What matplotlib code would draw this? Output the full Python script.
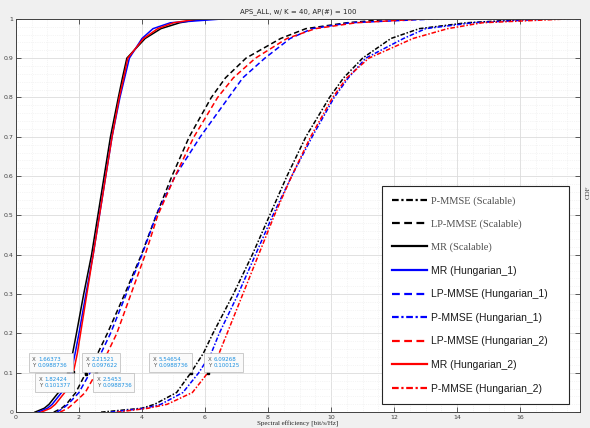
import numpy as np
import matplotlib
matplotlib.use('Agg')
import matplotlib.pyplot as plt
from matplotlib.patches import Rectangle
from matplotlib.ticker import MultipleLocator, FormatStrFormatter

# CDF levels shared by every curve, x values
cdf_levels = [0, 0.01, 0.02, 0.05, 0.1, 0.15, 0.2, 0.3, 0.4, 0.5, 0.6, 0.7,
              0.8, 0.85, 0.9, 0.95, 0.975, 0.99, 1.0]

mr_scalable = [0.6, 0.9, 1.05, 1.35, 1.66, 1.8, 1.92, 2.15, 2.4, 2.6, 2.8, 3.0,
               3.25, 3.38, 3.52, 4.1, 4.6, 5.2, 5.9]
mr_hung1 = [0.7, 1.0, 1.15, 1.45, 1.75, 1.88, 2.0, 2.22, 2.45, 2.65, 2.85, 3.05,
            3.3, 3.45, 3.6, 4.0, 4.35, 4.9, 6.6]
mr_hung2 = [0.8, 1.1, 1.25, 1.55, 1.82, 1.95, 2.05, 2.25, 2.45, 2.65, 2.85, 3.05,
            3.28, 3.42, 3.55, 4.05, 4.5, 5.0, 5.8]

lp_scalable = [1.2, 1.45, 1.6, 1.9, 2.22, 2.6, 2.9, 3.45, 3.98, 4.45, 4.95, 5.5,
               6.2, 6.65, 7.3, 8.4, 9.2, 10.5, 12.0]
lp_hung1 = [1.3, 1.5, 1.65, 2.0, 2.35, 2.7, 3.0, 3.5, 4.0, 4.45, 5.05, 5.85,
            6.75, 7.2, 7.9, 8.7, 9.4, 10.6, 13.4]
lp_hung2 = [1.4, 1.65, 1.8, 2.2, 2.55, 2.9, 3.2, 3.65, 4.1, 4.5, 5.05, 5.65,
            6.4, 6.9, 7.6, 8.6, 9.5, 10.8, 13.0]

p_scalable = [2.7, 4.0, 4.4, 5.1, 5.55, 5.95, 6.25, 6.9, 7.5, 8.05, 8.6, 9.2,
              9.95, 10.4, 11.0, 11.9, 12.8, 14.3, 16.5]
p_hung1 = [3.0, 4.1, 4.6, 5.3, 5.8, 6.2, 6.45, 7.05, 7.6, 8.15, 8.75, 9.4,
           10.1, 10.55, 11.1, 12.3, 13.0, 14.5, 17.0]
p_hung2 = [3.2, 4.2, 4.8, 5.6, 6.09, 6.45, 6.7, 7.2, 7.7, 8.2, 8.75, 9.35,
           10.05, 10.5, 11.2, 12.6, 13.7, 14.8, 17.6]

# data tips
tip_x = [1.66373, 1.82424, 2.21521, 2.5453, 5.54654, 6.09268]
tip_y = [0.0988736, 0.101377, 0.097622, 0.0988736, 0.0988736, 0.100125]
tip_xs = ['1.66373', '1.82424', '2.21521', '2.5453', '5.54654', '6.09268']
tip_ys = ['0.0988736', '0.101377', '0.097622', '0.0988736', '0.0988736', '0.100125']
tip_box_x = [0.52, 0.73, 2.22, 2.57, 4.35, 6.1]
tip_box_y = [0.127, 0.076, 0.127, 0.076, 0.127, 0.127]
tip_box_w = [1.42, 1.22, 1.2, 1.3, 1.35, 1.22]

DASH = (0, (3.5, 2.0))
DASHDOT = (0, (3.0, 1.2, 1.0, 1.2))

fig = plt.figure(figsize=(5.9, 4.28), dpi=100)
fig.patch.set_facecolor('#f0f0f0')
ax = fig.add_axes([0.027, 0.037, 0.956, 0.919])
ax.set_facecolor('white')

series = [
    (p_scalable, 'k', DASHDOT, 'P-MMSE (Scalable)'),
    (lp_scalable, 'k', DASH, 'LP-MMSE (Scalable)'),
    (mr_scalable, 'k', '-', 'MR (Scalable)'),
    (mr_hung1, '#0000ff', '-', 'MR (Hungarian_1)'),
    (lp_hung1, '#0000ff', DASH, 'LP-MMSE (Hungarian_1)'),
    (p_hung1, '#0000ff', DASHDOT, 'P-MMSE (Hungarian_1)'),
    (lp_hung2, '#ff0000', DASH, 'LP-MMSE (Hungarian_2)'),
    (mr_hung2, '#ff0000', '-', 'MR (Hungarian_2)'),
    (p_hung2, '#ff0000', DASHDOT, 'P-MMSE (Hungarian_2)'),
]
for xs, col, ls, lab in series:
    ax.plot(xs, cdf_levels, color=col, linestyle=ls, linewidth=1.1, label=lab)

ax.set_xlim(0, 17.9)
ax.set_ylim(0, 1)
ax.xaxis.set_major_locator(MultipleLocator(2))
ax.xaxis.set_minor_locator(MultipleLocator(0.5))
ax.yaxis.set_major_locator(MultipleLocator(0.1))
ax.yaxis.set_minor_locator(MultipleLocator(0.02))
ax.xaxis.set_major_formatter(FormatStrFormatter('%g'))
ax.yaxis.set_major_formatter(FormatStrFormatter('%g'))
ax.grid(True, which='major', color='#dcdcdc', linewidth=0.6)
ax.grid(True, which='minor', color='#ebebeb', linewidth=0.5, linestyle=':')
ax.set_axisbelow(True)
ax.tick_params(which='major', direction='in', length=3.5, width=0.6,
               labelsize=4.5, labelcolor='#404040', color='#404040',
               top=True, right=True, pad=2)
ax.tick_params(which='minor', length=0)
for s in ax.spines.values():
    s.set_color('#404040')
    s.set_linewidth(0.7)

ax.set_title('APS_ALL, w/ K = 40, AP(#) = 100', fontsize=5, color='#262626', pad=4)
ax.set_xlabel('Spectral efficiency [bit/s/Hz]', fontsize=5,
              family='Liberation Serif', color='#262626', labelpad=0.5)
fig.text(0.992, 0.55, 'CDF', fontsize=5, rotation=90, color='#404040',
         family='Liberation Serif', va='center')

for i in range(len(tip_x)):
    ax.plot(tip_x[i], tip_y[i], marker='s', color='k', markersize=2, zorder=5)
    ax.add_patch(Rectangle((tip_box_x[i] - 0.12, tip_box_y[i] - 0.024),
                           tip_box_w[i], 0.048, facecolor='#fafafa',
                           edgecolor='#b8b8b8', linewidth=0.5, zorder=6))
    ax.annotate('X\nY', (tip_box_x[i], tip_box_y[i]), fontsize=4, color='#505050',
                ha='left', va='center', zorder=7)
    ax.annotate(tip_xs[i] + '\n' + tip_ys[i], (tip_box_x[i], tip_box_y[i]),
                xytext=(4.0, 0), textcoords='offset points', fontsize=4,
                color='#1a8fe0', ha='left', va='center', zorder=7)

leg = ax.legend(loc='upper left', bbox_to_anchor=(0.649, 0.03, 0.3315, 0.545),
                mode='expand', fontsize=7.5,
                frameon=True, fancybox=False, framealpha=1, edgecolor='#262626',
                handlelength=3.3, handletextpad=0.4, labelspacing=1.3,
                borderpad=1.0, borderaxespad=0)
leg.get_frame().set_linewidth(0.8)
for t in leg.get_texts()[:3]:
    t.set_family('Liberation Serif')
    t.set_color('#505050')
for t in leg.get_texts()[3:]:
    t.set_family('Liberation Sans')
    t.set_color('#1a1a1a')
for l in leg.get_lines():
    l.set_linewidth(1.6)

plt.savefig('out.png', dpi=100, facecolor=fig.get_facecolor())
plt.close()
